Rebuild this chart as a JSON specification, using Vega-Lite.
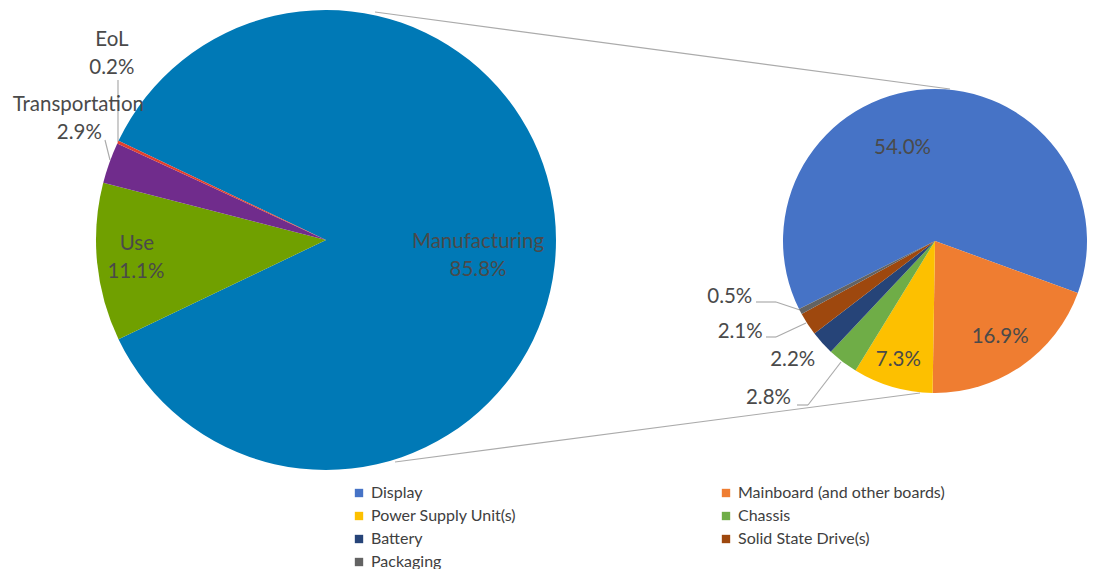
{
  "$schema": "https://vega.github.io/schema/vega-lite/v6.json",
  "width": 1093,
  "height": 569,
  "padding": 0,
  "autosize": {"type": "none"},
  "config": {
    "view": {"stroke": null},
    "font": "Lato",
    "text": {"font": "Lato", "fontSize": 20.5, "fill": "#4a4a4a", "align": "center", "baseline": "middle"},
    "rule": {"stroke": "#ababab", "strokeWidth": 1.2}
  },
  "datasets": {
    "lifecycle": [
      {"part": "Manufacturing", "share": 0.858, "ord": 1},
      {"part": "Use", "share": 0.111, "ord": 2},
      {"part": "Transportation", "share": 0.029, "ord": 3},
      {"part": "EoL", "share": 0.002, "ord": 4}
    ],
    "manufacturing": [
      {"part": "Display", "share": 0.540, "ord": 1},
      {"part": "Mainboard (and other boards)", "share": 0.169, "ord": 2},
      {"part": "Power Supply Unit(s)", "share": 0.073, "ord": 3},
      {"part": "Chassis", "share": 0.028, "ord": 4},
      {"part": "Battery", "share": 0.022, "ord": 5},
      {"part": "Solid State Drive(s)", "share": 0.021, "ord": 6},
      {"part": "Packaging", "share": 0.005, "ord": 7}
    ]
  },
  "layer": [
    {"data": {"values": [{}]}, "mark": "rule", "encoding": {
      "x": {"datum": 375, "type": "quantitative", "scale": {"domain": [0, 1093], "nice": false, "zero": false}, "axis": null},
      "y": {"datum": 12, "type": "quantitative", "scale": {"domain": [0, 569], "nice": false, "zero": false, "reverse": true}, "axis": null},
      "x2": {"datum": 950}, "y2": {"datum": 89}}},
    {"data": {"values": [{}]}, "mark": "rule", "encoding": {
      "x": {"datum": 395, "type": "quantitative"}, "y": {"datum": 462, "type": "quantitative"},
      "x2": {"datum": 920}, "y2": {"datum": 393}}},
    {"data": {"values": [{}]}, "mark": "rule", "encoding": {
      "x": {"datum": 118, "type": "quantitative"}, "y": {"datum": 80, "type": "quantitative"},
      "x2": {"datum": 118}, "y2": {"datum": 142}}},
    {"data": {"values": [{}]}, "mark": "rule", "encoding": {
      "x": {"datum": 105, "type": "quantitative"}, "y": {"datum": 140, "type": "quantitative"},
      "x2": {"datum": 110}, "y2": {"datum": 160}}},
    {"data": {"values": [{}]}, "mark": "rule", "encoding": {
      "x": {"datum": 756, "type": "quantitative"}, "y": {"datum": 302, "type": "quantitative"},
      "x2": {"datum": 776}, "y2": {"datum": 302}}},
    {"data": {"values": [{}]}, "mark": "rule", "encoding": {
      "x": {"datum": 776, "type": "quantitative"}, "y": {"datum": 302, "type": "quantitative"},
      "x2": {"datum": 800}, "y2": {"datum": 310}}},
    {"data": {"values": [{}]}, "mark": "rule", "encoding": {
      "x": {"datum": 766, "type": "quantitative"}, "y": {"datum": 337, "type": "quantitative"},
      "x2": {"datum": 776}, "y2": {"datum": 337}}},
    {"data": {"values": [{}]}, "mark": "rule", "encoding": {
      "x": {"datum": 776, "type": "quantitative"}, "y": {"datum": 337, "type": "quantitative"},
      "x2": {"datum": 806}, "y2": {"datum": 323}}},
    {"data": {"values": [{}]}, "mark": "rule", "encoding": {
      "x": {"datum": 797, "type": "quantitative"}, "y": {"datum": 405, "type": "quantitative"},
      "x2": {"datum": 808}, "y2": {"datum": 405}}},
    {"data": {"values": [{}]}, "mark": "rule", "encoding": {
      "x": {"datum": 808, "type": "quantitative"}, "y": {"datum": 405, "type": "quantitative"},
      "x2": {"datum": 841}, "y2": {"datum": 362}}},
    {
      "data": {"name": "lifecycle"},
      "encoding": {
        "theta": {"field": "share", "type": "quantitative", "stack": true, "scale": {"range": [-1.1247, 5.1585]}},
        "order": {"field": "ord", "type": "quantitative"},
        "detail": {"field": "part", "type": "nominal"},
        "x": {"datum": 326, "type": "quantitative"},
        "y": {"datum": 240, "type": "quantitative"}
      },
      "layer": [
        {"mark": {"type": "arc", "outerRadius": 230},
         "encoding": {"color": {"field": "part", "type": "nominal", "legend": null,
           "scale": {"domain": ["Manufacturing", "Use", "Transportation", "EoL"], "range": ["#0079b6", "#70a000", "#702c8c", "#e0402e"]}}}},
        {"mark": {"type": "text", "radius": 152, "dy": 2},
         "encoding": {"text": {"condition": {"test": "datum.part === 'Manufacturing'", "field": "part"}, "value": ""}}},
        {"mark": {"type": "text", "radius": 152, "dy": 30},
         "encoding": {"text": {"condition": {"test": "datum.part === 'Manufacturing'", "field": "share", "type": "quantitative", "format": ".1%"}, "value": ""}}},
        {"mark": {"type": "text", "radius": 189, "dx": -1, "dy": -14},
         "encoding": {"text": {"condition": {"test": "datum.part === 'Use'", "field": "part"}, "value": ""}}},
        {"mark": {"type": "text", "radius": 189, "dx": -2, "dy": 14},
         "encoding": {"text": {"condition": {"test": "datum.part === 'Use'", "field": "share", "type": "quantitative", "format": ".1%"}, "value": ""}}},
        {"mark": {"type": "text", "radius": 230, "dx": -31, "dy": -58},
         "encoding": {"text": {"condition": {"test": "datum.part === 'Transportation'", "field": "part"}, "value": ""}}},
        {"mark": {"type": "text", "radius": 230, "dx": -30, "dy": -30},
         "encoding": {"text": {"condition": {"test": "datum.part === 'Transportation'", "field": "share", "type": "quantitative", "format": ".1%"}, "value": ""}}},
        {"mark": {"type": "text", "radius": 230, "dx": -6, "dy": -102},
         "encoding": {"text": {"condition": {"test": "datum.part === 'EoL'", "field": "part"}, "value": ""}}},
        {"mark": {"type": "text", "radius": 230, "dx": -6, "dy": -74},
         "encoding": {"text": {"condition": {"test": "datum.part === 'EoL'", "field": "share", "type": "quantitative", "format": ".1%"}, "value": ""}}}
      ]
    },
    {
      "data": {"name": "manufacturing"},
      "encoding": {
        "theta": {"field": "share", "type": "quantitative", "stack": true, "scale": {"range": [-2.0345, 4.2487]}},
        "order": {"field": "ord", "type": "quantitative"},
        "detail": {"field": "part", "type": "nominal"},
        "x": {"datum": 935, "type": "quantitative"},
        "y": {"datum": 241, "type": "quantitative"}
      },
      "layer": [
        {"mark": {"type": "arc", "outerRadius": 152},
         "encoding": {"color": {"field": "part", "type": "nominal",
           "scale": {"domain": ["Display", "Mainboard (and other boards)", "Power Supply Unit(s)", "Chassis", "Battery", "Solid State Drive(s)", "Packaging"],
                     "range": ["#4673c6", "#ef7d31", "#fdc000", "#6fad47", "#264478", "#9e480e", "#636363"]},
           "legend": {"orient": "none", "legendX": 351, "legendY": 485, "direction": "horizontal", "columns": 2, "columnPadding": 201, "rowPadding": 7,
                      "symbolType": "square", "symbolSize": 70, "labelFontSize": 16, "labelFont": "Lato", "labelColor": "#404040",
                      "title": null, "labelOffset": 4, "labelLimit": 300}}}},
        {"mark": {"type": "text", "radius": 95, "dx": -27, "dy": 2},
         "encoding": {"text": {"condition": {"test": "datum.part === 'Display'", "field": "share", "type": "quantitative", "format": ".1%"}, "value": ""}}},
        {"mark": {"type": "text", "radius": 115, "dy": 1},
         "encoding": {"text": {"condition": {"test": "datum.part === 'Mainboard (and other boards)'", "field": "share", "type": "quantitative", "format": ".1%"}, "value": ""}}},
        {"mark": {"type": "text", "radius": 124, "dx": -2},
         "encoding": {"text": {"condition": {"test": "datum.part === 'Power Supply Unit(s)'", "field": "share", "type": "quantitative", "format": ".1%"}, "value": ""}}},
        {"mark": {"type": "text", "radius": 200, "dx": -45, "dy": -2},
         "encoding": {"text": {"condition": {"test": "datum.part === 'Chassis'", "field": "share", "type": "quantitative", "format": ".1%"}, "value": ""}}},
        {"mark": {"type": "text", "radius": 185, "dx": -5, "dy": -5},
         "encoding": {"text": {"condition": {"test": "datum.part === 'Battery'", "field": "share", "type": "quantitative", "format": ".1%"}, "value": ""}}},
        {"mark": {"type": "text", "radius": 180, "dx": -44, "dy": -7},
         "encoding": {"text": {"condition": {"test": "datum.part === 'Solid State Drive(s)'", "field": "share", "type": "quantitative", "format": ".1%"}, "value": ""}}},
        {"mark": {"type": "text", "radius": 200, "dx": -28, "dy": -37},
         "encoding": {"text": {"condition": {"test": "datum.part === 'Packaging'", "field": "share", "type": "quantitative", "format": ".1%"}, "value": ""}}}
      ]
    }
  ],
  "resolve": {"scale": {"theta": "independent", "color": "independent"}}
}
